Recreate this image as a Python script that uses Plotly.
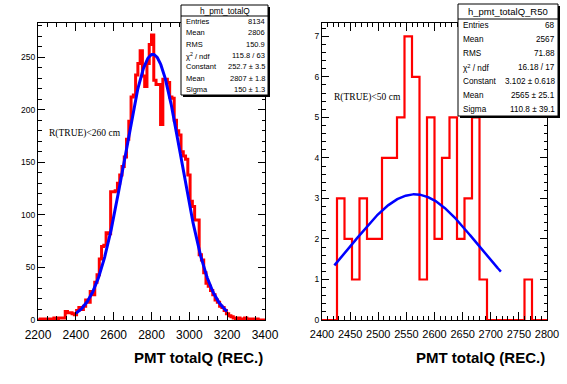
import numpy as np
import plotly.graph_objects as go

# ---------------- data ----------------
# Left histogram: h_pmt_totalQ, 100 bins 2200..3400
left_lo, left_hi, left_nbins = 2200, 3400, 100
left_counts = [0, 1, 0, 1, 1, 0, 1, 2, 1, 2,
               2, 2, 8, 7, 7, 6, 5, 9, 12, 10,
               13, 19, 17, 27, 24, 36, 43, 58, 70, 71,
               83, 82, 122, 122, 123, 130, 138, 146, 155, 172,
               189, 212, 214, 233, 244, 256, 232, 222, 244, 262,
               271, 228, 224, 224, 186, 229, 229, 226, 212, 211,
               190, 180, 176, 160, 156, 153, 138, 113, 108, 95,
               95, 62, 57, 45, 35, 32, 28, 24, 19, 17,
               13, 12, 9, 6, 4, 3, 2, 1, 2, 1,
               1, 2, 1, 0, 1, 0, 1, 0, 0, 0]
left_fit = dict(const=252.7, mean=2807.0, sigma=150.0, lo=2400, hi=3200)
left_stats_title = "h_pmt_totalQ"
left_stats_labels = ["Entries", "Mean", "RMS", "χ<sup>2</sup> / ndf", "Constant", "Mean", "Sigma"]
left_stats_values = ["8134", "2806", "150.9", "115.8 / 63", "252.7 ± 3.5", "2807 ± 1.8", "150 ± 1.3"]
left_label = "R(TRUE)<260 cm"

# Right histogram: h_pmt_totalQ_R50, 30 bins 2400..2800
right_lo, right_hi, right_nbins = 2400, 2800, 30
right_counts = [0, 0, 3, 2, 1, 3, 2, 2, 4, 4,
                5, 7, 6, 1, 5, 2, 4, 5, 2, 3,
                5, 1, 0, 0, 0, 0, 0, 1, 0, 0]
right_fit = dict(const=3.102, mean=2565.0, sigma=110.8, lo=2422, hi=2718)
right_stats_title = "h_pmt_totalQ_R50"
right_stats_labels = ["Entries", "Mean", "RMS", "χ<sup>2</sup> / ndf", "Constant", "Mean", "Sigma"]
right_stats_values = ["68", "2567", "71.88", "16.18 / 17", "3.102 ± 0.618", "2565 ± 25.1", "110.8 ± 39.1"]
right_label = "R(TRUE)<50 cm"

x_title = "PMT totalQ (REC.)"

# ---------------- figure ----------------
W, H = 567, 384
def px(x): return x / W
def py(y): return 1 - y / H

def step_xy(lo, hi, n, counts):
    edges = np.linspace(lo, hi, n + 1)
    return edges, list(counts) + [counts[-1]]

def gauss_xy(f):
    xs = np.linspace(f["lo"], f["hi"], 300)
    return xs, f["const"] * np.exp(-0.5 * ((xs - f["mean"]) / f["sigma"]) ** 2)

fig = go.Figure()
ex, ey = step_xy(left_lo, left_hi, left_nbins, left_counts)
fig.add_trace(go.Scatter(x=ex, y=ey, mode="lines", line=dict(color="#ff0000", width=3, shape="hv"),
                         xaxis="x", yaxis="y", hoverinfo="skip"))
gx, gy = gauss_xy(left_fit)
fig.add_trace(go.Scatter(x=gx, y=gy, mode="lines", line=dict(color="#0000ff", width=3),
                         xaxis="x", yaxis="y", hoverinfo="skip"))
ex, ey = step_xy(right_lo, right_hi, right_nbins, right_counts)
fig.add_trace(go.Scatter(x=ex, y=ey, mode="lines", line=dict(color="#ff0000", width=2.2, shape="hv"),
                         xaxis="x2", yaxis="y2", hoverinfo="skip"))
gx, gy = gauss_xy(right_fit)
fig.add_trace(go.Scatter(x=gx, y=gy, mode="lines", line=dict(color="#0000ff", width=2.5),
                         xaxis="x2", yaxis="y2", hoverinfo="skip"))

sans = "Liberation Sans, Arial, sans-serif"
tickfont_x = dict(family=sans, size=12, color="black")
tickfont_x2 = dict(family=sans, size=11, color="black")
tickfont_y = dict(family=sans, size=8.5, color="black")

def axis(domain, rng, dtick, minor_dtick, font, anchor, ticklen, minorlen, standoff):
    return dict(domain=domain, range=rng, dtick=dtick, tick0=0, ticks="inside", ticklen=ticklen,
                tickwidth=1, tickcolor="black", showline=True, linecolor="black", linewidth=1,
                mirror="allticks", showgrid=False, zeroline=False, tickfont=font, anchor=anchor,
                automargin=False, layer="above traces", ticklabelstandoff=standoff,
                minor=dict(dtick=minor_dtick, ticks="inside", ticklen=minorlen, tickcolor="black",
                           tickwidth=1, showgrid=False))

ydom = [py(320), py(23)]
fig.update_layout(
    width=W, height=H, margin=dict(l=0, r=0, t=0, b=0),
    paper_bgcolor="white", plot_bgcolor="white", showlegend=False,
    xaxis=axis([px(38), px(265)], [left_lo, left_hi], 200, 50, tickfont_x, "y", 8, 4, 4),
    yaxis=axis(ydom, [0, 282.5], 50, 10, tickfont_y, "x", 7, 3.5, 0),
    xaxis2=axis([px(322), px(547)], [right_lo, right_hi], 50, 10, tickfont_x2, "y2", 8, 4, 4),
    yaxis2=axis(ydom, [0, 7.33], 1, 0.2, tickfont_y, "x2", 7, 3.5, 0),
)

shapes = []
annotations = []

def stats_box(x0, x1, y0, y1, title_h, title, labels, values, fs_title, fs):
    shapes.append(dict(type="rect", xref="paper", yref="paper", x0=px(x0 + 2), x1=px(x1 + 2),
                       y0=py(y1 + 2), y1=py(y0 + 2), fillcolor="black", line=dict(width=0)))
    shapes.append(dict(type="rect", xref="paper", yref="paper", x0=px(x0), x1=px(x1),
                       y0=py(y1), y1=py(y0), fillcolor="white", line=dict(color="black", width=1)))
    shapes.append(dict(type="line", xref="paper", yref="paper", x0=px(x0), x1=px(x1),
                       y0=py(y0 + title_h), y1=py(y0 + title_h), line=dict(color="black", width=1)))
    annotations.append(dict(xref="paper", yref="paper", x=px((x0 + x1) / 2), y=py(y0 + title_h / 2),
                            text=title, showarrow=False, xanchor="center", yanchor="middle",
                            font=dict(family=sans, size=fs_title, color="black")))
    n = len(labels)
    rh = (y1 - y0 - title_h) / n
    for i, (lab, val) in enumerate(zip(labels, values)):
        yc = y0 + title_h + rh * (i + 0.5)
        annotations.append(dict(xref="paper", yref="paper", x=px(x0 + 3), y=py(yc), text=lab,
                                showarrow=False, xanchor="left", yanchor="middle",
                                font=dict(family=sans, size=fs, color="black")))
        annotations.append(dict(xref="paper", yref="paper", x=px(x1 - 1.5), y=py(yc), text=val,
                                showarrow=False, xanchor="right", yanchor="middle",
                                font=dict(family=sans, size=fs, color="black")))

stats_box(181, 268, 5, 95, 11, left_stats_title, left_stats_labels, left_stats_values, 8.3, 7.5)
stats_box(458, 558, 4, 116, 15, right_stats_title, right_stats_labels, right_stats_values, 9.5, 8.2)

serif = "Liberation Serif, Times New Roman, serif"
annotations.append(dict(xref="paper", yref="paper", x=px(47), y=py(133), text=left_label,
                        showarrow=False, xanchor="left", yanchor="middle",
                        font=dict(family=serif, size=9.5, color="black")))
annotations.append(dict(xref="paper", yref="paper", x=px(332), y=py(98), text=right_label,
                        showarrow=False, xanchor="left", yanchor="middle",
                        font=dict(family=serif, size=9.5, color="black")))
for xr in (265, 547):
    annotations.append(dict(xref="paper", yref="paper", x=px(xr), y=py(357), text="<b>" + x_title + "</b>",
                            showarrow=False, xanchor="right", yanchor="middle",
                            font=dict(family=sans, size=15, color="black")))

fig.update_layout(shapes=shapes, annotations=annotations)
# remove the default 8px page margin so the figure fills the window exactly
fig.write_html("out.html", config={"displayModeBar": False},
               post_script="document.body.style.margin='0';document.body.style.overflow='hidden';")
